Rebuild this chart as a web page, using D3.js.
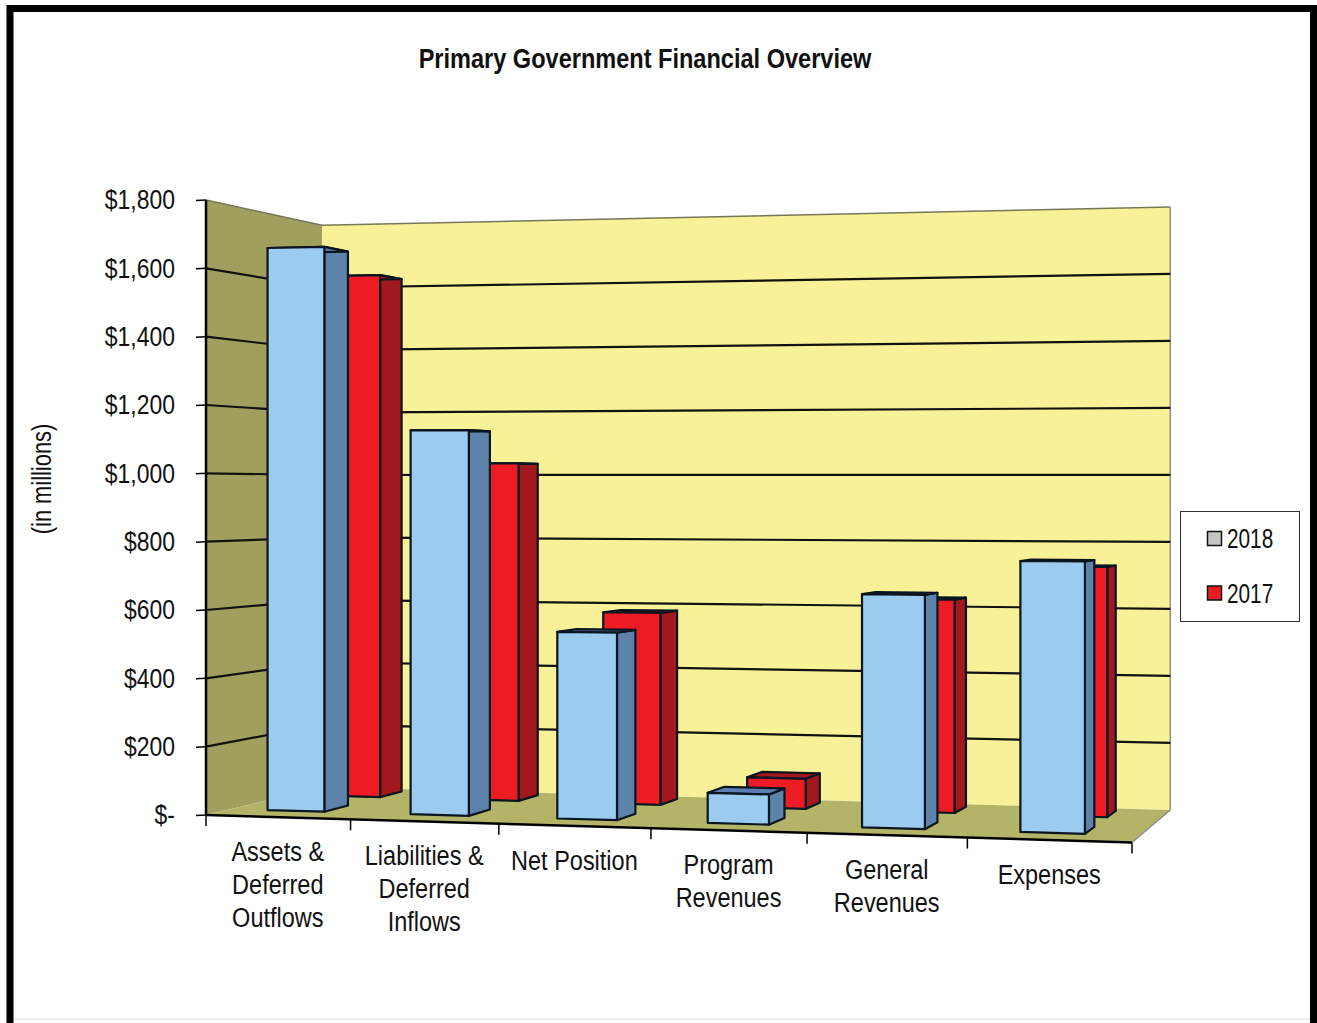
<!DOCTYPE html>
<html><head><meta charset="utf-8">
<script src="https://cdn.jsdelivr.net/npm/d3@7"></script>
<style>html,body{margin:0;padding:0;background:#fff;overflow:hidden}svg{display:block}text{font-family:"Liberation Sans",Arial,sans-serif;fill:#111}</style>
</head><body><svg id="c" width="1317" height="1023"></svg>
<script>
const title = "Primary Government Financial Overview";
const yAxisTitle = "(in millions)";
const categories = ["Assets &|Deferred|Outflows","Liabilities &|Deferred|Inflows","Net Position","Program|Revenues","General|Revenues","Expenses"];
const seriesNames = ["2018","2017"];
const values2018 = [1671,1127,541,86,659,756];
const values2017 = [1618,1034,581,90,630,730];
const tickValues = [0,200,400,600,800,1000,1200,1400,1600,1800];
const tickLabels = ["$-","$200","$400","$600","$800","$1,000","$1,200","$1,400","$1,600","$1,800"];
const frontColors = ["#9CCBF0","#ED1C24"];
const sideColors = ["#5E83AB","#A3181E"];
const topColors = ["#5B7FB2","#A3181E"];
const legendColors = ["#C4C6C6","#ED1C24"];

const svg = d3.select("#c");
// projective camera: floor (u across, d depth), v height
const G=-0.075,H=0.095,K=615;
const P00=[206,815],P10=[1132,842.5],P01=[322,787];
const A=P10[0]*(1+G)-P00[0],B=P01[0]*(1+H)-P00[0],C=P00[0];
const D=P10[1]*(1+G)-P00[1],E=P01[1]*(1+H)-P00[1],F=P00[1];
const vS=d3.scaleLinear().domain([0,1800]).range([0,1]);
const uBand=d3.scaleBand().domain(categories).range([0,1]).paddingInner(0).paddingOuter(0);
const proj=(u,d,val)=>{const w=1+G*u+H*d;return [(A*u+B*d+C)/w,(D*u+E*d+F)/w-vS(val)*K/w];};
const poly=(pts,fill,stroke,sw)=>svg.append("polygon").attr("points",pts.map(p=>p.join(",")).join(" ")).attr("fill",fill).attr("stroke",stroke||"none").attr("stroke-width",sw||0).attr("stroke-linejoin","round");
const line=(a,b,stroke,sw)=>svg.append("line").attr("x1",a[0]).attr("y1",a[1]).attr("x2",b[0]).attr("y2",b[1]).attr("stroke",stroke).attr("stroke-width",sw);
const txt=(x,y,s,size,sx,opt={})=>{const t=svg.append("text").attr("transform",`translate(${x},${y}) ${opt.rot?`rotate(${opt.rot})`:""} scale(${sx},1)`).attr("font-size",size).attr("text-anchor",opt.anchor||"middle").attr("dominant-baseline","central").text(s);if(opt.bold)t.attr("font-weight","bold");return t;};

// frame
svg.append("rect").attr("x",10).attr("y",8.5).attr("width",1303.5).attr("height",1030).attr("fill","none").attr("stroke","#000").attr("stroke-width",7);
line([14,1019],[1310,1019],"#eeeeee",2);

// walls + floor
const vMax=1800;
poly([proj(0,0,0),proj(0,1,0),proj(0,1,vMax),proj(0,0,vMax)],"#A19F5E");
poly([proj(0,1,0),proj(1,1,0),proj(1,1,vMax),proj(0,1,vMax)],"#F8F198");
poly([proj(0,0,0),proj(1,0,0),proj(1,1,0),proj(0,1,0)],"#B4B468");
line(proj(0,0,vMax),proj(0,1,vMax),"#77775a",1.5);
line(proj(0,1,vMax),proj(1,1,vMax),"#77775a",1.5);
line(proj(1,1,vMax),proj(1,1,0),"#8f8f8f",1.5);
line(proj(1,1,0),proj(1,0,0),"#8f8f8f",1.5);

// gridlines
tickValues.slice(1,-1).forEach(t=>{
  line(proj(0,0,t),proj(0,1,t),"#111",2.2);
  line(proj(0,1,t),proj(1,1,t),"#111",2.2);
});

// bars
const depth=[[0.2,0.41],[0.71,0.92]];
const barLo=0.26,barHi=0.66;
[1,0].forEach(s=>{
  const vals=s===0?values2018:values2017;
  categories.forEach((c,i)=>{
    const u0=uBand(c)+uBand.bandwidth()*barLo,u1=uBand(c)+uBand.bandwidth()*barHi;
    const [d0,d1]=depth[s];const v=vals[i];
    const st="#0a1520",sw=2.2;
    poly([proj(u1,d0,0),proj(u1,d1,0),proj(u1,d1,v),proj(u1,d0,v)],sideColors[s],st,sw);
    poly([proj(u0,d0,v),proj(u1,d0,v),proj(u1,d1,v),proj(u0,d1,v)],topColors[s],st,sw);
    poly([proj(u0,d0,0),proj(u1,d0,0),proj(u1,d0,v),proj(u0,d0,v)],frontColors[s],st,sw);
  });
});

// axes
line(proj(0,0,0),proj(0,0,vMax),"#000",2.5);
line(proj(0,0,0),proj(1,0,0),"#000",2.5);
tickValues.forEach((t,i)=>{
  const p=proj(0,0,t);
  line([p[0]-10,p[1]+0.5],p,"#000",1.5);
  txt(175,p[1]-0.5,tickLabels[i],27,0.85,{anchor:"end"});
});
const edges=[0,...categories.map(c=>uBand(c)+uBand.bandwidth())];
edges.forEach(u=>{const p=proj(u,0,0);line(p,[p[0],p[1]+11],"#000",1.5);});
categories.forEach(c=>{
  const a=proj(uBand(c),0,0),b=proj(uBand(c)+uBand.bandwidth(),0,0);
  const mx=(a[0]+b[0])/2-0.5,my=(a[1]+b[1])/2;
  c.split("|").forEach((s,k)=>txt(mx,my+34+k*33,s,27,0.87));
});

// titles
txt(645,58,title,27,0.872,{bold:true});
txt(42,479,yAxisTitle,27,0.81,{rot:-90});

// legend
svg.append("rect").attr("x",1180.5).attr("y",511.5).attr("width",119).attr("height",110).attr("fill","#fff").attr("stroke","#333").attr("stroke-width",1);
seriesNames.forEach((n,i)=>{
  const y=538.5+i*54.5;
  svg.append("rect").attr("x",1207.5).attr("y",y-7).attr("width",14).attr("height",14).attr("fill",legendColors[i]).attr("stroke","#111").attr("stroke-width",1.5);
  txt(1227,y,n,27,0.77,{anchor:"start"});
});
</script></body></html>
